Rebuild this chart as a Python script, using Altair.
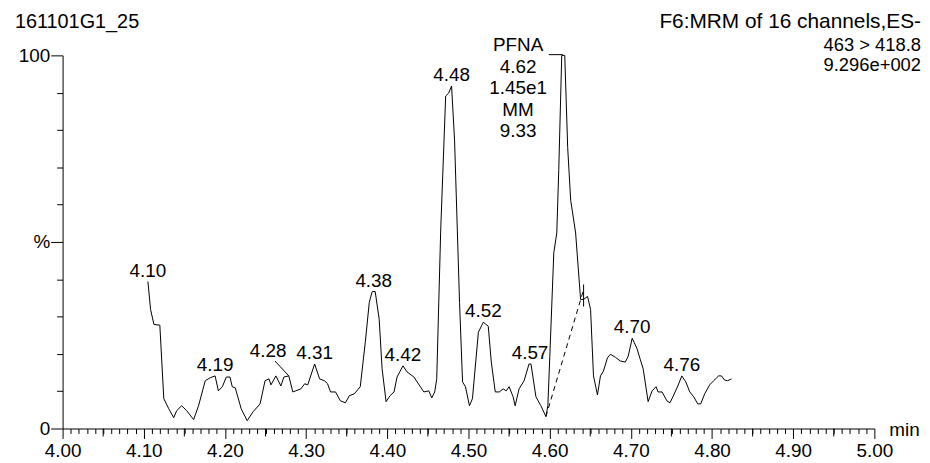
import altair as alt
import pandas as pd

# ---- trace (retention time in min, relative intensity in %) ----
rt = [4.1051, 4.1084, 4.1125, 4.1198, 4.1247, 4.1308, 4.1369, 4.1406, 4.1467, 4.1528,
      4.1614, 4.1675, 4.1757, 4.1818, 4.1879, 4.1919, 4.1968, 4.2017, 4.2062, 4.2090,
      4.2127, 4.2200, 4.2274, 4.2347, 4.2433, 4.2494, 4.2543, 4.2567, 4.2628, 4.2689,
      4.2726, 4.2787, 4.2836, 4.2873, 4.2934, 4.2983, 4.3020, 4.3105, 4.3166, 4.3227,
      4.3264, 4.3301, 4.3362, 4.3423, 4.3484, 4.3533, 4.3594, 4.3667, 4.3729, 4.3778,
      4.3814, 4.3851, 4.3900, 4.3936, 4.3985, 4.4034, 4.4083, 4.4120, 4.4193, 4.4242,
      4.4328, 4.4401, 4.4450, 4.4511, 4.4548, 4.4584, 4.4609, 4.4658, 4.4719, 4.4756,
      4.4792, 4.4829, 4.4890, 4.4927, 4.4963, 4.5012, 4.5049, 4.5122, 4.5183, 4.5244,
      4.5281, 4.5330, 4.5379, 4.5428, 4.5465, 4.5501, 4.5550, 4.5575, 4.5623, 4.5685,
      4.5746, 4.5770, 4.5831, 4.5892, 4.5954, 4.5978, 4.6002, 4.6051, 4.6088, 4.6112,
      4.6149, 4.6186, 4.6222, 4.6259, 4.6320, 4.6381, 4.6418, 4.6467, 4.6504, 4.6540,
      4.6589, 4.6626, 4.6663, 4.6711, 4.6748, 4.6809, 4.6870, 4.6932, 4.6968, 4.7017,
      4.7078, 4.7115, 4.7152, 4.7213, 4.7262, 4.7311, 4.7335, 4.7384, 4.7445, 4.7482,
      4.7518, 4.7579, 4.7628, 4.7677, 4.7726, 4.7775, 4.7824, 4.7861, 4.7910, 4.7971,
      4.8020, 4.8081, 4.8117, 4.8154, 4.8191, 4.8240]
pct = [39.4, 31.9, 27.9, 27.7, 8.0, 5.3, 2.9, 4.8, 6.1, 4.8,
       2.4, 6.1, 12.8, 13.6, 14.1, 10.1, 11.2, 13.8, 13.8, 11.2,
       10.9, 5.3, 2.1, 4.5, 6.6, 12.8, 13.3, 11.7, 14.1, 11.4,
       13.8, 14.1, 9.8, 10.1, 10.6, 12.0, 11.7, 17.3, 13.3, 12.8,
       12.0, 9.8, 9.8, 7.4, 6.9, 8.8, 9.3, 11.2, 23.1, 33.8,
       36.7, 36.7, 29.3, 16.0, 7.2, 8.8, 9.8, 13.8, 16.8, 15.2,
       13.8, 11.4, 9.8, 10.1, 8.2, 9.8, 13.3, 53.2, 89.1, 89.9,
       91.8, 77.1, 33.8, 12.5, 11.2, 6.1, 8.0, 25.8, 28.5, 27.4,
       17.8, 9.8, 9.8, 10.6, 10.1, 11.2, 8.5, 6.1, 10.6, 12.8,
       17.3, 17.3, 8.5, 6.1, 3.2, 6.1, 19.4, 47.1, 52.4, 69.1,
       100.0, 100.0, 75.3, 61.2, 52.4, 34.6, 34.6, 35.4, 31.9, 14.1,
       9.0, 14.1, 15.4, 18.9, 19.9, 19.1, 18.1, 17.8, 19.4, 24.2,
       21.3, 18.6, 16.0, 7.2, 10.1, 11.2, 9.8, 9.8, 7.4, 6.9,
       8.5, 11.4, 14.1, 12.5, 9.8, 8.5, 6.6, 6.6, 9.3, 11.7,
       12.8, 14.1, 14.1, 13.0, 12.8, 13.3]

# ---- peak labels ----
peak_labels = ["4.10", "4.19", "4.31", "4.38", "4.42", "4.48", "4.52", "4.57", "4.70", "4.76"]
peak_rt = [4.1051, 4.1879, 4.3105, 4.3833, 4.4193, 4.4792, 4.5183, 4.5758, 4.7017, 4.7628]
peak_pct = [39.4, 14.1, 17.3, 36.7, 16.8, 91.8, 28.5, 17.3, 24.2, 14.1]

# label with leader line (4.28)
lead_label = ["4.28"]
lead_label_rt = [4.2531]
lead_label_pct = [19.1]
lead_from_rt = [4.2616]
lead_from_pct = [18.1]
lead_to_rt = [4.2787]
lead_to_pct = [14.1]

# integrated peak annotation
pfna_lines = ["PFNA", "4.62", "1.45e1", "MM", "9.33"]
pfna_rt = [4.5611]
pfna_pct = [101.1]
bracket_rt = [4.5990]
bracket_rt2 = [4.6161]
bracket_pct = [100.2]
baseline_rt = [4.5954, 4.6418]
baseline_pct = [3.2, 37.2]
baseline_tick_rt = [4.6418]
baseline_tick_lo = [32.7]
baseline_tick_hi = [38.6]

# header texts
title_left = ["161101G1_25"]
header_right = ["F6:MRM of 16 channels,ES-", "463 > 418.8", "9.296e+002"]
x_unit = ["min"]

x_ticks = [round(4.0 + i * 0.01, 2) for i in range(101)]
x_mid_ticks = [t for t in x_ticks if round(t * 100) % 10 == 5]
y_ticks = list(range(0, 101, 10))

FONT = "Liberation Sans"
FS = 19
HFS = 20
W, H = 818, 376

xscale = alt.Scale(domain=[4.0, 5.0], nice=False, zero=False)
yscale = alt.Scale(domain=[0, 100], nice=False, zero=False)

x_axis = alt.Axis(
    values=x_ticks,
    labelExpr="round(datum.value*100) % 10 == 0 ? format(datum.value, '.2f') : ''",
    tickSize={"condition": {"test": "round(datum.value*100) % 10 == 0", "value": 10},
              "value": 5},
    labelOverlap=False, labelFlush=False, labelPadding=3,
    labelFont=FONT, labelFontSize=FS, labelColor="black",
    domainColor="black", tickColor="black", domainWidth=1, tickWidth=1,
    grid=False, title=None,
)
y_axis = alt.Axis(
    values=y_ticks,
    labelExpr="datum.value == 100 ? '100' : datum.value == 50 ? '%' : datum.value == 0 ? '0' : ''",
    tickSize={"condition": {"test": "datum.value % 50 == 0", "value": 12}, "value": 6},
    labelOverlap=False, labelFlush=False, labelPadding=1,
    labelFont=FONT, labelFontSize=FS, labelColor="black",
    domainColor="black", tickColor="black", domainWidth=1, tickWidth=1,
    grid=False, title=None,
)


def X(f):
    return alt.X(f, type="quantitative", scale=xscale, axis=x_axis)


def Y(f):
    return alt.Y(f, type="quantitative", scale=yscale, axis=y_axis)


trace_df = pd.DataFrame({"rt": rt, "pct": pct})
trace = alt.Chart(trace_df).mark_line(color="black", strokeWidth=1).encode(
    x=X("rt"), y=Y("pct"))

# medium ticks at every 0.05 min
mid_df = pd.DataFrame({"t": x_mid_ticks})
mid_ticks = alt.Chart(mid_df).mark_rule(color="black", strokeWidth=1).encode(
    x=X("t"), y=alt.value(H), y2=alt.value(H + 8))

peaks_df = pd.DataFrame({"label": peak_labels, "rt": peak_rt, "pct": peak_pct})
peak_text = alt.Chart(peaks_df).mark_text(
    font=FONT, fontSize=FS, color="black", baseline="alphabetic", align="center", dy=-5
).encode(x=X("rt"), y=Y("pct"), text="label:N")

lead_df = pd.DataFrame({"label": lead_label, "lrt": lead_label_rt, "lpct": lead_label_pct,
                        "frt": lead_from_rt, "fpct": lead_from_pct,
                        "trt": lead_to_rt, "tpct": lead_to_pct})
lead_text = alt.Chart(lead_df).mark_text(
    font=FONT, fontSize=FS, color="black", baseline="alphabetic", align="center"
).encode(x=X("lrt"), y=Y("lpct"), text="label:N")
lead_rule = alt.Chart(lead_df).mark_rule(color="black", strokeWidth=1).encode(
    x=X("frt"), y=Y("fpct"), x2="trt", y2="tpct")

pfna_df = pd.DataFrame({"rt": pfna_rt, "pct": pfna_pct})
pfna_text = alt.Chart(pfna_df).mark_text(
    font=FONT, fontSize=FS, color="black", baseline="alphabetic", align="center",
    lineHeight=21.7, text=pfna_lines
).encode(x=X("rt"), y=Y("pct"))

bracket_df = pd.DataFrame({"a": bracket_rt, "b": bracket_rt2, "p": bracket_pct})
bracket = alt.Chart(bracket_df).mark_rule(color="black", strokeWidth=1).encode(
    x=X("a"), x2="b", y=Y("p"))

base_df = pd.DataFrame({"rt": baseline_rt, "pct": baseline_pct})
base_line = alt.Chart(base_df).mark_line(color="black", strokeWidth=1, strokeDash=[5, 4]).encode(
    x=X("rt"), y=Y("pct"))
btick_df = pd.DataFrame({"rt": baseline_tick_rt, "lo": baseline_tick_lo, "hi": baseline_tick_hi})
btick = alt.Chart(btick_df).mark_rule(color="black", strokeWidth=1).encode(
    x=X("rt"), y=Y("lo"), y2="hi")

title_df = pd.DataFrame({"t": title_left})
title_txt = alt.Chart(title_df).mark_text(
    font=FONT, fontSize=HFS, color="black", align="left", baseline="alphabetic"
).encode(x=alt.value(-48), y=alt.value(-28), text="t:N")

hdr_df = pd.DataFrame({"t": header_right, "row": [0, 1, 2]})
hdr_layers = []
for i, (yy, fs) in enumerate([(-28, 21), (-4, 18.5), (16, 18.5)]):
    hdr_layers.append(
        alt.Chart(hdr_df).transform_filter(alt.datum.row == i).mark_text(
            font=FONT, fontSize=fs, color="black", align="right", baseline="alphabetic"
        ).encode(x=alt.value(865), y=alt.value(yy), text="t:N")
    )

unit_df = pd.DataFrame({"t": x_unit})
unit_txt = alt.Chart(unit_df).mark_text(
    font=FONT, fontSize=FS, color="black", align="left", baseline="alphabetic"
).encode(x=alt.value(833), y=alt.value(384), text="t:N")

chart = alt.layer(
    trace, mid_ticks, base_line, btick, peak_text, lead_text, lead_rule, pfna_text, bracket,
    title_txt, *hdr_layers, unit_txt
).properties(
    width=W, height=H,
    autosize=alt.AutoSizeParams(type="none"),
    padding={"left": 55, "top": 46, "right": 48, "bottom": 32},
    background="white",
).configure_view(stroke=None)

chart.save("out.html", embed_options={"renderer": "svg", "actions": False})
